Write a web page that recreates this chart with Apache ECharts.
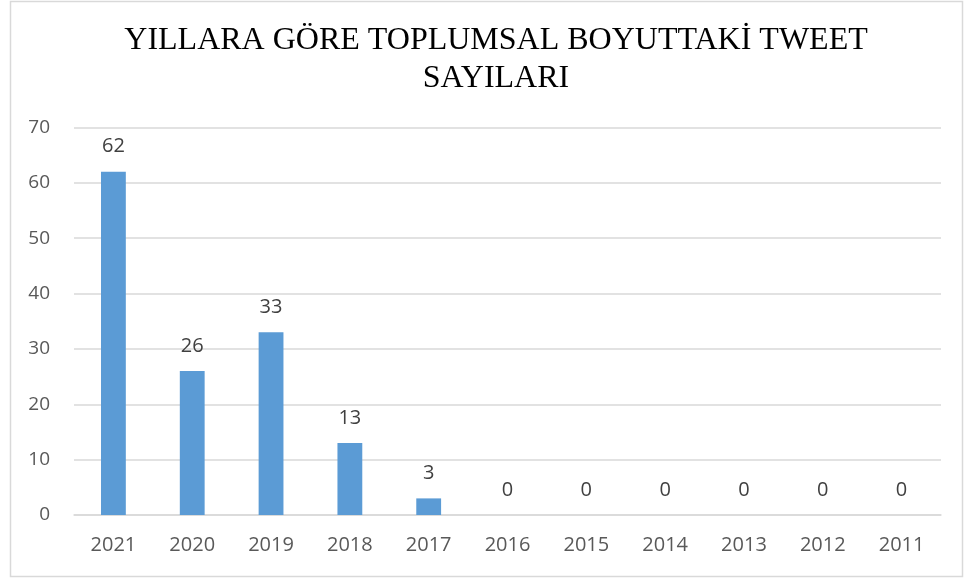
<!DOCTYPE html>
<html>
<head>
<meta charset="utf-8">
<script src="https://cdn.jsdelivr.net/npm/echarts@6/dist/echarts.min.js"></script>
<style>
  html, body { margin: 0; padding: 0; background: #fff; }
  #chart { width: 965px; height: 579px; }
</style>
</head>
<body>
<div id="chart"></div>
<script>
const years = ['2021', '2020', '2019', '2018', '2017', '2016', '2015', '2014', '2013', '2012', '2011'];
const tweetCounts = [62, 26, 33, 13, 3, 0, 0, 0, 0, 0, 0];

const chart = echarts.init(document.getElementById('chart'));

const option = {
  backgroundColor: '#fff',
  animation: false,
  graphic: [{
    type: 'rect',
    shape: { x: 10.5, y: 1.5, width: 952, height: 575 },
    style: { fill: 'none', stroke: '#d9d9d9', lineWidth: 1.5 },
    silent: true
  }],
  title: {
    text: 'YILLARA GÖRE TOPLUMSAL BOYUTTAKİ TWEET\nSAYILARI',
    left: 491,
    top: 17,
    textAlign: 'center',
    textStyle: {
      fontFamily: '"Liberation Serif", serif',
      fontSize: 32,
      fontWeight: 'normal',
      color: '#000',
      lineHeight: 38
    }
  },
  grid: { left: 74, right: 24, top: 127.5, bottom: 64 },
  xAxis: {
    type: 'category',
    data: years,
    axisLine: { lineStyle: { color: '#d9d9d9', width: 1.5 } },
    axisTick: { show: false },
    axisLabel: {
      color: '#595959',
      fontSize: 20,
      fontFamily: '"Open Sans", sans-serif',
      margin: 20
    }
  },
  yAxis: {
    type: 'value',
    min: 0,
    max: 70,
    interval: 10,
    axisLine: { show: false },
    axisTick: { show: false },
    splitLine: { lineStyle: { color: '#d9d9d9', width: 1.5 } },
    axisLabel: {
      color: '#595959',
      fontSize: 19,
      fontFamily: '"Open Sans", sans-serif',
      margin: 24
    }
  },
  series: [{
    type: 'bar',
    data: tweetCounts,
    barWidth: '31.5%',
    itemStyle: { color: '#5b9bd5' },
    label: {
      show: true,
      position: 'top',
      distance: 15,
      color: '#404040',
      fontSize: 20,
      fontFamily: '"Open Sans", sans-serif'
    }
  }]
};

chart.setOption(option);
</script>
</body>
</html>
